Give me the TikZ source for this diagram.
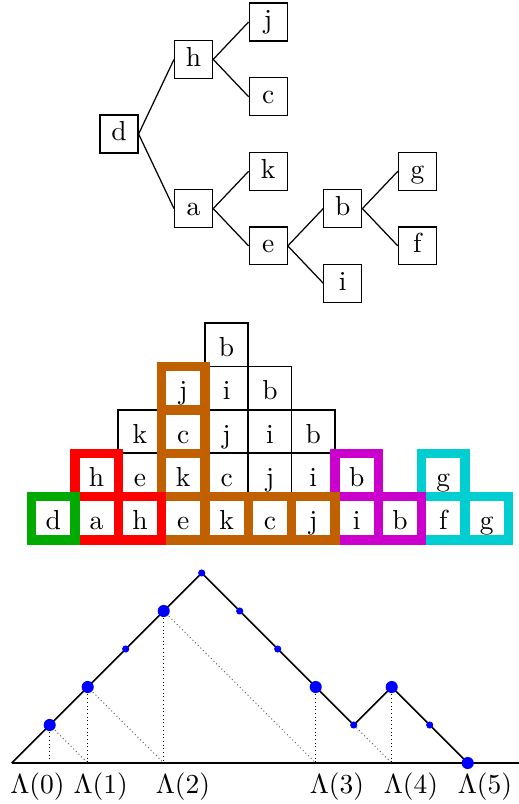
\documentclass[tikz,border=0pt]{standalone}
\usepackage{tikz}

\definecolor{tilegreen}{RGB}{0,170,0}
\definecolor{tilered}{RGB}{255,0,0}
\definecolor{tilebrown}{RGB}{192,96,0}
\definecolor{tilemagenta}{RGB}{204,0,204}
\definecolor{tilecyan}{RGB}{0,206,209}

\begin{document}
\begin{tikzpicture}[x=0.3636pt, y=-0.3636pt,
  leaf/.style={draw, line width=0.45pt, minimum size=13.8pt, inner sep=0pt,
    text height=7pt, text depth=2pt},
  cell/.style={draw, semithick, minimum size=15.76pt, inner sep=0pt,
    text height=8.5pt, text depth=0pt},
  tile/.style={draw=#1, line width=3.4pt, minimum size=15.76pt, inner sep=0pt,
    text height=8.5pt, text depth=0pt}]
  \useasboundingbox (0,0) rectangle (519,804);

  % Tree
  \node[leaf] (d) at (119,134) {d};
  \node[leaf] (h) at (193.6,59.4) {h};
  \node[leaf] (a) at (193.6,208.6) {a};
  \node[leaf] (j) at (268.2,22) {j};
  \node[leaf] (c) at (268.2,96.7) {c};
  \node[leaf] (k) at (268.2,171.3) {k};
  \node[leaf] (e) at (268.2,245.9) {e};
  \node[leaf] (b) at (342.8,208.6) {b};
  \node[leaf] (i) at (342.8,283.2) {i};
  \node[leaf] (g) at (417.4,171.3) {g};
  \node[leaf] (f) at (417.4,245.9) {f};
  \foreach \p/\q in {d/h, d/a, h/j, h/c, a/k, a/e, e/b, e/i, b/g, b/f}
    \draw[line width=0.45pt] (\p.east) -- (\q.west);

  % Stacked squares: plain ones first, coloured ones on top (right to left)
  \foreach \r/\c/\t in {1/2/e, 1/4/c, 1/5/j, 1/6/i, 2/2/k, 2/4/j, 2/5/i, 2/6/b,
                        3/4/i, 3/5/b, 4/4/b}
    \node[cell] (s\r-\c) at ({53.2+43.35*\c},{518.3-43.35*\r}) {\t};
  \foreach \r/\c/\t in {1/9/g, 0/9/f, 0/10/g}
    \node[tile=tilecyan] (s\r-\c) at ({53.2+43.35*\c},{518.3-43.35*\r}) {\t};
  \foreach \r/\c/\t in {1/7/b, 0/7/i, 0/8/b}
    \node[tile=tilemagenta] (s\r-\c) at ({53.2+43.35*\c},{518.3-43.35*\r}) {\t};
  \foreach \r/\c/\t in {3/3/j, 2/3/c, 1/3/k, 0/3/e, 0/4/k, 0/5/c, 0/6/j}
    \node[tile=tilebrown] (s\r-\c) at ({53.2+43.35*\c},{518.3-43.35*\r}) {\t};
  \foreach \r/\c/\t in {1/1/h, 0/1/a, 0/2/h}
    \node[tile=tilered] (s\r-\c) at ({53.2+43.35*\c},{518.3-43.35*\r}) {\t};
  \node[tile=tilegreen] (s0-0) at (53.2,518.3) {d};

  % Lattice path
  \foreach \k/\h in {0/0, 1/1, 2/2, 3/3, 4/4, 5/5, 6/4, 7/3, 8/2, 9/1, 10/2, 11/1, 12/0} {
    \coordinate (p\k) at ({11.7+38*\k},{763-38*\h});
    \coordinate (q\k) at ({11.7+38*\k},763);
  }
  \coordinate (axisend) at (519,763);
  \draw[semithick] (p0) -- (axisend);
  \foreach \k in {1,2,4,8,10}
    \draw[densely dotted, line width=0.35pt] (p\k) -- (q\k);
  \foreach \p/\q in {1/2, 2/4, 4/8, 9/10}
    \draw[densely dotted, black!65, line width=0.35pt] (p\p) -- (q\q);
  \draw[semithick] (p0) -- (p1) -- (p2) -- (p3) -- (p4) -- (p5) -- (p6) -- (p7)
    -- (p8) -- (p9) -- (p10) -- (p11) -- (p12);
  \foreach \k in {1,2,4,8,10,12}
    \fill[blue] (p\k) circle[radius=2.2pt];
  \foreach \k in {3,5,6,7,9,11}
    \fill[blue] (p\k) circle[radius=1.3pt];

  % Labels
  \node[below] (L0) at (37.5,763) {$\Lambda(0)$};
  \node[below] (L1) at (100.7,763) {$\Lambda(1)$};
  \node[below] (L2) at (183,763) {$\Lambda(2)$};
  \node[below] (L3) at (337,763) {$\Lambda(3)$};
  \node[below] (L4) at (411,763) {$\Lambda(4)$};
  \node[below] (L5) at (485,763) {$\Lambda(5)$};
\end{tikzpicture}
\end{document}
